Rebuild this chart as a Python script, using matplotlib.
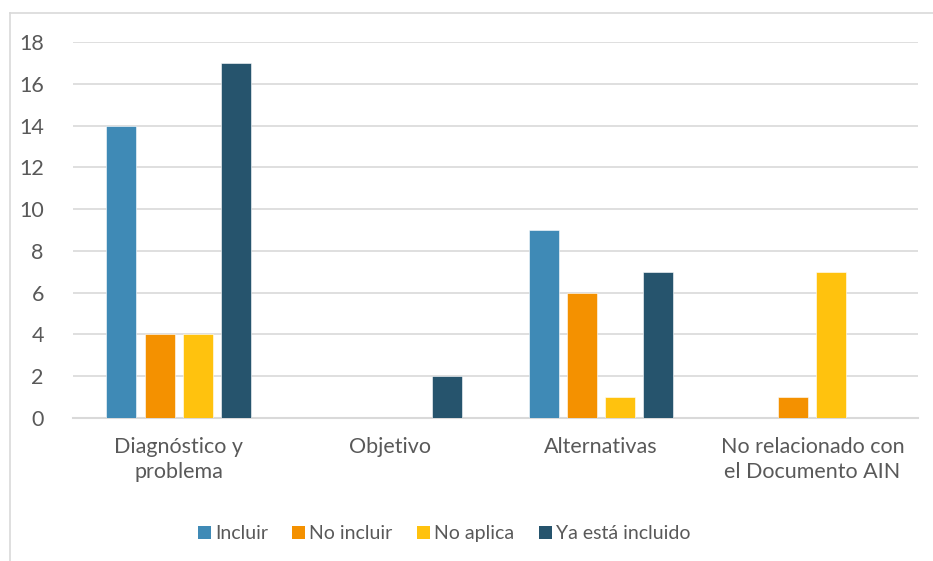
import matplotlib
matplotlib.use("Agg")
import matplotlib.pyplot as plt
from matplotlib.lines import Line2D
from matplotlib.patches import Rectangle
import numpy as np

categories = ["Diagnóstico y\nproblema", "Objetivo", "Alternativas", "No relacionado con\nel Documento AIN"]
series_names = ["Incluir", "No incluir", "No aplica", "Ya está incluido"]
incluir = [14, 0, 9, 0]
no_incluir = [4, 0, 6, 1]
no_aplica = [4, 0, 1, 7]
ya_incluido = [17, 2, 7, 0]
colors = ["#3F8AB6", "#F49100", "#FFC20E", "#26546D"]
yticks = [0, 2, 4, 6, 8, 10, 12, 14, 16, 18]

plt.rcParams['font.family'] = ['Lato', 'DejaVu Sans']
text_color = "#595959"

W, H = 933, 561
fig = plt.figure(figsize=(W/100, H/100), dpi=100)
ax = fig.add_axes([73/W, 1-418/H, 845/W, 376/H])

series = [incluir, no_incluir, no_aplica, ya_incluido]
x = np.arange(len(categories))
width = 0.142
pitch = 0.181
for i, (vals, name, c) in enumerate(zip(series, series_names, colors)):
    offs = (i - 1.5) * pitch
    ax.bar(x + offs, vals, width=width, color=c, label=name, zorder=3,
           edgecolor="white", linewidth=0.4)

ax.set_xlim(-0.5, len(categories) - 0.5)
ax.set_ylim(0, 18)
ax.set_yticks(yticks)
ax.set_xticks(x)
ax.set_xticklabels(categories, fontsize=15.5, color=text_color, linespacing=1.3)
ax.tick_params(axis='y', labelsize=15.5, labelcolor=text_color, length=0, pad=21)
ax.tick_params(axis='x', length=0, pad=14)
ax.grid(axis='y', color="#D9D9D9", linewidth=1.2, zorder=0)
for s in ["top", "right", "left"]:
    ax.spines[s].set_visible(False)
ax.spines["bottom"].set_color("#D9D9D9")
ax.spines["bottom"].set_linewidth(1.5)

# legend (manual, baseline-aligned)
renderer = fig.canvas.get_renderer()
leg_fs = 14
sq = 13
gap_txt = 4
gap_col = 24.5
baseline_px = 539
texts = []
widths = []
for name in series_names:
    t = fig.text(0, 0, name, fontsize=leg_fs, color=text_color, va="baseline", ha="left")
    widths.append(t.get_window_extent(renderer).width)
    texts.append(t)
total = sum(sq + gap_txt + w for w in widths) + gap_col * (len(widths) - 1)
xpos = 444 - total / 2
for t, w, c in zip(texts, widths, colors):
    fig.add_artist(Rectangle((xpos / W, 1 - baseline_px / H), sq / W, sq / H,
                             transform=fig.transFigure, facecolor=c, edgecolor="none"))
    t.set_position(((xpos + sq + gap_txt) / W, 1 - baseline_px / H))
    xpos += sq + gap_txt + w + gap_col

# chart border (left and top visible)
fig.add_artist(Line2D([9.5/W, 9.5/W], [0, 1-13/H], transform=fig.transFigure,
                      color="#D9D9D9", linewidth=1.2))
fig.add_artist(Line2D([9.5/W, 1], [1-13/H, 1-13/H], transform=fig.transFigure,
                      color="#D9D9D9", linewidth=1.2))

fig.savefig("out.png", dpi=100)
